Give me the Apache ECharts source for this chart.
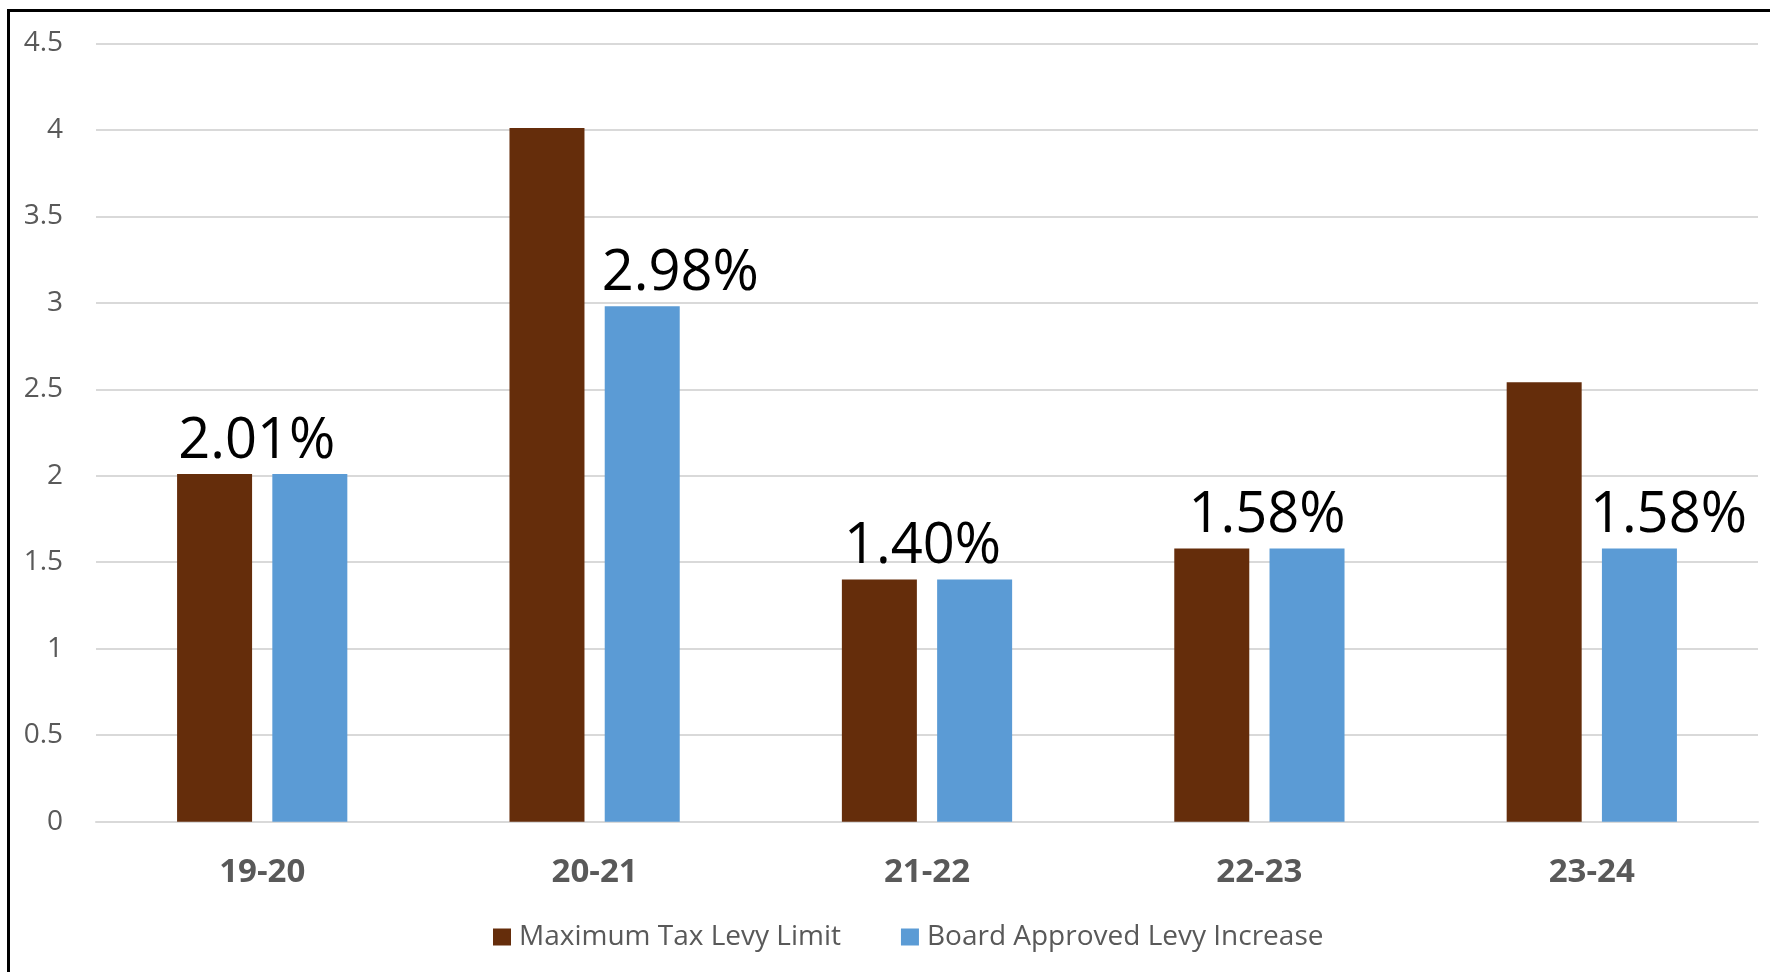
<!DOCTYPE html>
<html>
<head>
    <meta charset="utf-8" />
    <title>Tax Levy</title>
    <script src="https://cdn.jsdelivr.net/npm/echarts@6/dist/echarts.min.js"></script>
    <style>
        html, body { margin: 0; padding: 0; background: #fff; }
        #main { position: absolute; left: 0; top: 0; width: 1770px; height: 972px; }
        #frame {
            position: absolute; left: 7px; top: 9px; right: 0; bottom: 0;
            border-left: 3px solid #000; border-top: 3px solid #000;
            pointer-events: none;
        }
    </style>
</head>
<body>
    <div id="main"></div>
    <div id="frame"></div>
    <script type="text/javascript">
        var years = ['19-20', '20-21', '21-22', '22-23', '23-24'];
        var maxLimit = [2.01, 4.01, 1.40, 1.58, 2.54];
        var boardApproved = [2.01, 2.98, 1.40, 1.58, 1.58];

        // excel labels were dragged by hand, so shift each one sideways
        var labelShift = [-53, 38, -52, -40, 29];

        var font = '"Open Sans", sans-serif';
        var myChart = echarts.init(document.getElementById('main'));

        var option = {
            animation: false,
            grid: { left: 96, right: 12, top: 43.3, bottom: 150.3 },
            legend: {
                left: 488,
                top: 918,
                itemWidth: 18,
                itemHeight: 17,
                itemGap: 60,
                icon: 'rect',
                textStyle: { fontFamily: font, fontSize: 28, color: '#595959', padding: [0, 0, 0, 3] },
                data: ['Maximum Tax Levy Limit', 'Board Approved Levy Increase']
            },
            xAxis: {
                type: 'category',
                data: years,
                axisLine: { lineStyle: { color: '#d9d9d9', width: 2 } },
                axisTick: { show: false },
                axisLabel: { fontFamily: font, fontSize: 33, fontWeight: 'bold', color: '#595959', margin: 34 }
            },
            yAxis: {
                type: 'value',
                min: 0,
                max: 4.5,
                interval: 0.5,
                axisLabel: { fontFamily: font, fontSize: 28, color: '#595959', margin: 33 },
                splitLine: { lineStyle: { color: '#d9d9d9', width: 2 } }
            },
            series: [
                {
                    name: 'Maximum Tax Levy Limit',
                    type: 'bar',
                    barWidth: 75,
                    barGap: '27%',
                    itemStyle: { color: '#652D0B' },
                    data: maxLimit
                },
                {
                    name: 'Board Approved Levy Increase',
                    type: 'bar',
                    barWidth: 75,
                    itemStyle: { color: '#5B9BD5' },
                    label: {
                        show: true,
                        position: 'top',
                        distance: 4,
                        fontFamily: font,
                        fontSize: 56,
                        color: '#000',
                        formatter: function (p) { return p.value.toFixed(2) + '%'; }
                    },
                    data: boardApproved.map(function (v, i) {
                        return { value: v, label: { offset: [labelShift[i], 0] } };
                    })
                }
            ]
        };

        myChart.setOption(option);
    </script>
</body>
</html>
